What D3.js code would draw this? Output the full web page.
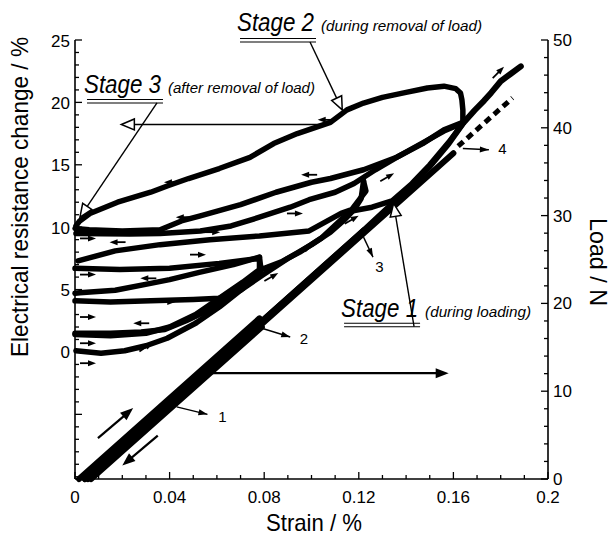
<!DOCTYPE html>
<html>
<head>
<meta charset="utf-8">
<script src="https://cdn.jsdelivr.net/npm/d3@7"></script>
<style>
  body { margin: 0; background: #fff; }
  text { font-family: "Liberation Sans", Arial, sans-serif; fill: #000; }
</style>
</head>
<body>
<svg id="chart" width="614" height="538"></svg>
<script>
// ---- data (strain in %, resistance change in %, load in N) ----
const strainTicks = [0, 0.04, 0.08, 0.12, 0.16, 0.2];
const resistanceTicks = [0, 5, 10, 15, 20, 25];
const loadTicks = [0, 10, 20, 30, 40, 50];

// load vs strain (right axis), one line per loading cycle
const loadCycle1 = [[0.0017, 0], [0.078, 18.3]];
const loadCycle2 = [[0.0068, 0], [0.079, 17.3]];
const loadCycle3 = [[0.0042, 0], [0.122, 28.3]];
const loadCycle4 = [[0.0055, 0], [0.160, 37.1]];
const loadCycle5 = [[0.0042, 0], [0.120, 27.8], [0.140, 32.8], [0.150, 35.6], [0.158, 38.2], [0.164, 40.5],
  [0.169, 42.0], [0.173, 43.1], [0.176, 44.0], [0.180, 45.3], [0.184, 46.1], [0.1885, 47.0]];
const loadTrend = [[0.162, 37.9], [0.185, 43.4]];

// resistance change vs strain (left axis)
const resLoad1 = [[0.0004, 0.1], [0.011, -0.1], [0.021, 0.1], [0.030, 0.5], [0.039, 1.1], [0.051, 2.3],
  [0.061, 3.6], [0.071, 5.1], [0.078, 6.4]];
const resUnload1 = [[0.078, 6.4], [0.068, 5.0], [0.057, 3.4], [0.047, 2.5], [0.038, 1.8], [0.028, 1.6],
  [0.015, 1.5], [0.006, 1.5], [0, 1.5]];
const resLoad2 = [[0, 1.4], [0.015, 1.3], [0.030, 1.5], [0.040, 2.0], [0.051, 3.0], [0.061, 4.3],
  [0.071, 5.6], [0.078, 6.6], [0.078, 7.6]];
const resUnload2 = [[0.078, 7.6], [0.067, 7.0], [0.053, 6.4], [0.040, 5.8], [0.032, 5.5], [0.017, 4.95],
  [0.002, 4.75], [0, 4.7]];
const resLoad3 = [[0, 4.1], [0.015, 4.0], [0.032, 4.1], [0.050, 4.2], [0.061, 4.3], [0.070, 4.95],
  [0.080, 6.25], [0.090, 7.5], [0.100, 8.6], [0.108, 9.6], [0.114, 10.6], [0.118, 11.4], [0.121, 12.3],
  [0.122, 13.7]];
const resUnload3 = [[0.122, 13.7], [0.123, 12.9], [0.117, 11.4], [0.1125, 11.1], [0.099, 9.7], [0.078, 9.3],
  [0.057, 9.0], [0.036, 8.6], [0.017, 8.1], [0.0013, 7.3]];
const resLoad4 = [[0, 6.7], [0.019, 6.6], [0.040, 6.7], [0.061, 7.1], [0.078, 7.5], [0.0787, 6.6],
  [0.087, 7.2], [0.095, 8.0], [0.104, 9.1], [0.1125, 10.6], [0.117, 11.3], [0.1256, 11.6], [0.134, 12.1],
  [0.1425, 13.5], [0.150, 15.0], [0.158, 16.8], [0.164, 18.3]];
const resUnload4 = [[0.164, 18.4], [0.156, 17.8], [0.147, 16.7], [0.136, 15.6], [0.122, 14.6], [0.108, 13.9],
  [0.100, 13.6], [0.085, 12.8], [0.070, 11.8], [0.053, 10.9], [0.045, 10.5], [0.036, 9.8], [0.020, 9.7],
  [0.006, 9.8], [0, 9.9]];
const resLoad5 = [[0.0004, 9.5], [0.023, 9.45], [0.036, 9.5], [0.053, 9.7], [0.066, 10.1], [0.078, 10.8],
  [0.091, 11.6], [0.099, 12.2], [0.110, 12.8], [0.118, 13.5], [0.127, 14.6], [0.136, 15.6], [0.147, 16.75],
  [0.156, 17.7], [0.164, 18.35]];
const resStage2 = [[0.164, 18.4], [0.164, 19.4], [0.1636, 20.2], [0.163, 20.75], [0.161, 21.1], [0.156, 21.3],
  [0.149, 21.15], [0.140, 20.8], [0.130, 20.4], [0.122, 19.95], [0.115, 19.4], [0.108, 18.4], [0.094, 17.5],
  [0.084, 16.7], [0.074, 15.6], [0.061, 14.7], [0.048, 13.9], [0.039, 13.3], [0.032, 12.8], [0.018, 12.0],
  [0.0063, 11.1], [0.002, 10.5], [0.0004, 10.1]];

// direction arrows drawn on the curves: [strain, resistance, angle in degrees]
const smallArrows = [
  [0.0055, -0.9, 0], [0.0055, 0.7, 0], [0.0055, 2.8, 0], [0.0055, 6.2, 0], [0.0055, 9.1, 0],
  [0.030, 0.4, -35], [0.028, 2.3, 180], [0.051, 2.3, -40], [0.039, 4.0, 0], [0.031, 5.9, 180],
  [0.083, 6.0, -30], [0.052, 7.8, 0], [0.018, 8.8, 180], [0.097, 8.2, -25], [0.058, 9.6, 0],
  [0.046, 10.8, 180], [0.093, 11.1, 0], [0.099, 14.2, 180], [0.132, 14.0, -30], [0.041, 13.6, 180],
  [0.106, 18.6, 180], [0.117, 10.6, -30], [0.179, 22.4, -45]
];
// big arrows: [from strain, from res, to strain, to res]
const bigArrows = [[0.0097, -6.9, 0.0246, -4.5], [0.035, -6.7, 0.020, -9.1], [0.058, -1.7, 0.158, -1.7]];
// numbered callouts: [label, from strain, from res, to strain, to res, text strain, text res]
const callouts = [
  ["1", 0.043, -4.4, 0.056, -5.0, 0.0606, -5.6],
  ["2", 0.079, 1.9, 0.091, 1.2, 0.095, 0.6],
  ["3", 0.122, 9.2, 0.126, 7.6, 0.127, 6.4],
  ["4", 0.164, 16.3, 0.175, 16.2, 0.179, 15.9]
];
// stage labels: [title, note, text strain, baseline res, underline res, leader tip strain, tip res]
const stages = [
  ["Stage 2", "(during removal of load)", 0.0685, 25.75, 24.98, 0.113, 19.4],
  ["Stage 3", "(after removal of load)", 0.0038, 20.73, 20.09, 0.0021, 10.8],
  ["Stage 1", "(during loading)", 0.1125, 2.83, 2.16, 0.1347, 11.9]
];
const stageArrow = [0.1057, 18.23, 0.0196, 18.23];

// ---- layout ----
const svg = d3.select("#chart");
const plotL = 75, plotR = 548, plotT = 40, plotB = 479;

const x = d3.scaleLinear().domain([0, 0.2]).range([plotL, plotR]);
const yRes = d3.scaleLinear().domain([-10.18, 25]).range([plotB, plotT]);
const yLoad = d3.scaleLinear().domain([0, 50]).range([plotB, plotT]);

// ---- axes ----
const axisG = svg.append("g").attr("stroke", "#000").attr("stroke-width", 1.6);
axisG.append("line").attr("x1", plotL).attr("x2", plotL).attr("y1", plotT).attr("y2", plotB);
axisG.append("line").attr("x1", plotR).attr("x2", plotR).attr("y1", plotT).attr("y2", plotB);
axisG.append("line").attr("x1", plotL).attr("x2", plotR).attr("y1", plotB).attr("y2", plotB);

d3.range(-10, 26).forEach(v => {
  const major = v % 5 === 0;
  axisG.append("line").attr("x1", plotL).attr("x2", plotL + (major ? 7 : 4))
    .attr("y1", yRes(v)).attr("y2", yRes(v)).attr("stroke-width", 1.3);
});
d3.range(0, 51, 2).forEach(v => {
  const major = v % 10 === 0;
  axisG.append("line").attr("x1", plotR).attr("x2", plotR - (major ? 7 : 4))
    .attr("y1", yLoad(v)).attr("y2", yLoad(v)).attr("stroke-width", 1.3);
});
d3.range(0, 21).forEach(i => {
  const v = i / 100, major = i % 4 === 0;
  axisG.append("line").attr("x1", x(v)).attr("x2", x(v))
    .attr("y1", plotB).attr("y2", plotB - (major ? 7 : 4)).attr("stroke-width", 1.3);
});

svg.append("g").selectAll("text").data(resistanceTicks).join("text")
  .attr("x", plotL - 5).attr("y", d => yRes(d) + 6.5).attr("text-anchor", "end")
  .attr("font-size", 17).text(d => d);
svg.append("g").selectAll("text").data(loadTicks).join("text")
  .attr("x", plotR + 5).attr("y", d => yLoad(d) + 6).attr("text-anchor", "start")
  .attr("font-size", 17).text(d => d);
svg.append("g").selectAll("text").data(strainTicks).join("text")
  .attr("x", d => x(d)).attr("y", plotB + 24).attr("text-anchor", "middle")
  .attr("font-size", 17).text(d => d);

// axis titles (narrow face, squeezed to the measured widths)
svg.append("text").attr("x", 314).attr("y", 531).attr("text-anchor", "middle")
  .attr("font-size", 24).attr("textLength", 96).attr("lengthAdjust", "spacingAndGlyphs").text("Strain / %");
svg.append("text").attr("transform", "translate(28,197) rotate(-90)").attr("text-anchor", "middle")
  .attr("font-size", 24).attr("textLength", 320).attr("lengthAdjust", "spacingAndGlyphs")
  .text("Electrical resistance change / %");
svg.append("text").attr("transform", "translate(590,262) rotate(90)").attr("text-anchor", "middle")
  .attr("font-size", 24).attr("textLength", 88).attr("lengthAdjust", "spacingAndGlyphs").text("Load / N");

// ---- curves ----
const lineRes = d3.line().x(d => x(d[0])).y(d => yRes(d[1]));
const lineLoad = d3.line().x(d => x(d[0])).y(d => yLoad(d[1]));
const curves = svg.append("g").attr("fill", "none").attr("stroke", "#000")
  .attr("stroke-linejoin", "round").attr("stroke-linecap", "round");

[loadCycle1, loadCycle2, loadCycle3, loadCycle4, loadCycle5].forEach(d =>
  curves.append("path").attr("d", lineLoad(d)).attr("stroke-width", 6));
curves.append("path").attr("d", lineLoad(loadTrend)).attr("stroke-width", 5)
  .attr("stroke-dasharray", "7,5").attr("stroke-linecap", "butt");

[resLoad1, resUnload1, resLoad2, resUnload2, resLoad3, resUnload3, resLoad4, resUnload4, resLoad5, resStage2]
  .forEach(d => curves.append("path").attr("d", lineRes(d)).attr("stroke-width", 5.5));

// ---- arrow helpers ----
function filledHead(g, x0, y0, ang, len, w) {
  const a = ang * Math.PI / 180;
  const bx = x0 - len * Math.cos(a), by = y0 - len * Math.sin(a);
  const px = -Math.sin(a) * w, py = Math.cos(a) * w;
  g.append("path").attr("d", `M${x0},${y0}L${bx + px},${by + py}L${bx - px},${by - py}Z`)
    .attr("fill", "#000").attr("stroke", "none");
}
function hollowHead(g, x0, y0, ang) {
  const a = ang * Math.PI / 180, len = 13, w = 5.5;
  const bx = x0 - len * Math.cos(a), by = y0 - len * Math.sin(a);
  const px = -Math.sin(a) * w, py = Math.cos(a) * w;
  g.append("path").attr("d", `M${x0},${y0}L${bx + px},${by + py}L${bx - px},${by - py}Z`)
    .attr("fill", "#fff").attr("stroke", "#000").attr("stroke-width", 1.5);
}

const ann = svg.append("g");
smallArrows.forEach(([s, r, ang]) => {
  const cx = x(s), cy = yRes(r), a = ang * Math.PI / 180, h = 8;
  const x1 = cx - h * Math.cos(a), y1 = cy - h * Math.sin(a);
  const x2 = cx + h * Math.cos(a), y2 = cy + h * Math.sin(a);
  ann.append("line").attr("x1", x1).attr("y1", y1).attr("x2", x2 - 4 * Math.cos(a)).attr("y2", y2 - 4 * Math.sin(a))
    .attr("stroke", "#000").attr("stroke-width", 1.8);
  filledHead(ann, x2, y2, ang, 8, 3);
});
bigArrows.forEach(([s1, r1, s2, r2]) => {
  const x1 = x(s1), y1 = yRes(r1), x2 = x(s2), y2 = yRes(r2);
  const ang = Math.atan2(y2 - y1, x2 - x1) * 180 / Math.PI;
  ann.append("line").attr("x1", x1).attr("y1", y1).attr("x2", x2 - 8 * Math.cos(ang * Math.PI / 180))
    .attr("y2", y2 - 8 * Math.sin(ang * Math.PI / 180)).attr("stroke", "#000").attr("stroke-width", 2.2);
  filledHead(ann, x2, y2, ang, 13, 5);
});
callouts.forEach(([label, s1, r1, s2, r2, ts, tr]) => {
  const x1 = x(s1), y1 = yRes(r1), x2 = x(s2), y2 = yRes(r2);
  const ang = Math.atan2(y2 - y1, x2 - x1) * 180 / Math.PI;
  ann.append("line").attr("x1", x1).attr("y1", y1).attr("x2", x2).attr("y2", y2)
    .attr("stroke", "#000").attr("stroke-width", 1.4);
  filledHead(ann, x2, y2, ang, 9, 3);
  ann.append("text").attr("x", x(ts)).attr("y", yRes(tr)).attr("font-size", 15).text(label);
});

// stage titles: measured widths of the title and its note
const titleW = 77, noteW = { "Stage 2": 161, "Stage 3": 147, "Stage 1": 106 };
stages.forEach(([title, note, ts, tr, ur, s2, r2]) => {
  const tx = x(ts), ty = yRes(tr), uy = yRes(ur);
  ann.append("text").attr("x", tx).attr("y", ty).attr("font-style", "italic").attr("font-size", 25)
    .attr("textLength", titleW).attr("lengthAdjust", "spacingAndGlyphs").text(title);
  ann.append("text").attr("x", tx + titleW + 7).attr("y", ty).attr("font-style", "italic").attr("font-size", 15)
    .attr("textLength", noteW[title]).attr("lengthAdjust", "spacingAndGlyphs").text(note);
  [-1.7, 1.7].forEach(o => ann.append("line").attr("x1", tx + 3).attr("x2", tx + titleW + 2)
    .attr("y1", uy + o).attr("y2", uy + o).attr("stroke", "#000").attr("stroke-width", 1.1));
  const x1 = tx + titleW - 4, y1 = uy + 1.7, x2 = x(s2), y2 = yRes(r2);
  const ang = Math.atan2(y2 - y1, x2 - x1) * 180 / Math.PI;
  ann.append("line").attr("x1", x1).attr("y1", y1).attr("x2", x2 - 10 * Math.cos(ang * Math.PI / 180))
    .attr("y2", y2 - 10 * Math.sin(ang * Math.PI / 180)).attr("stroke", "#000").attr("stroke-width", 1.4);
  hollowHead(ann, x2, y2, ang);
});
{
  const [s1, r1, s2, r2] = stageArrow;
  ann.append("line").attr("x1", x(s1)).attr("y1", yRes(r1)).attr("x2", x(s2) + 12).attr("y2", yRes(r2))
    .attr("stroke", "#000").attr("stroke-width", 1.4);
  hollowHead(ann, x(s2), yRes(r2), 180);
}
</script>
</body>
</html>
